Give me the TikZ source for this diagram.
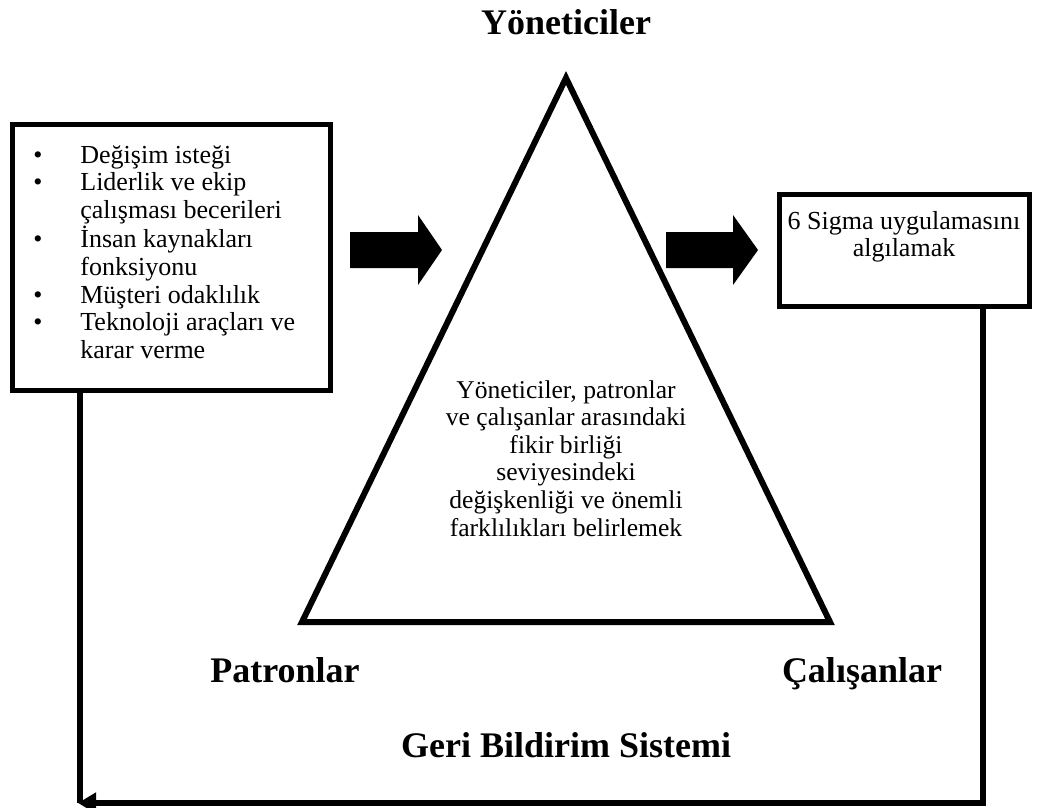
\documentclass[tikz,border=0pt]{standalone}
\usepackage{fontspec}
\setmainfont{Liberation Serif}
\usetikzlibrary{arrows.meta}
\begin{document}
\begin{tikzpicture}[x=0.5pt,y=-0.5pt,
  boxline/.style={draw=black,line width=2.5pt,line join=miter,inner sep=0pt},
  triline/.style={draw=black,line width=3pt,line join=miter},
  fbline/.style={draw=black,line width=2.6pt,line join=miter},
  blockarrow/.style={fill=black},
  bodytext/.style={inner sep=0pt,font=\fontsize{13}{13.8}\selectfont},
  tritext/.style={inner sep=0pt,font=\fontsize{12.8}{13.8}\selectfont},
  corner/.style={inner sep=0pt,font=\bfseries\fontsize{18}{20}\selectfont},
  heading/.style={inner sep=0pt,font=\bfseries\fontsize{18}{20}\selectfont}]
\useasboundingbox (0,0) rectangle (1044,808);

% boxes
\node[boxline,minimum width=159pt,minimum height=132.5pt] (lbox) at (171,257.5) {};
\node[boxline,minimum width=125pt,minimum height=56pt] (rbox) at (904.5,250) {};

% left list
\node[bodytext,anchor=base west] (ltext) at (33,163) {%
  \begin{tabular}[t]{@{}p{23.5pt}@{}l@{}}
  \textbullet & Değişim isteği\\
  \textbullet & Liderlik ve ekip\\
              & çalışması becerileri\\
  \textbullet & İnsan kaynakları\\
              & fonksiyonu\\
  \textbullet & Müşteri odaklılık\\
  \textbullet & Teknoloji araçları ve\\
              & karar verme
  \end{tabular}};

% right box text
\node[bodytext,anchor=base] (rtext) at (904,229) {%
  \begin{tabular}[t]{@{}c@{}}
  6 Sigma uygulamasını\\
  algılamak
  \end{tabular}};

% triangle
\coordinate (apex) at (566,78);
\coordinate (bl) at (302,622);
\coordinate (br) at (830,622);
\draw[triline] (apex) -- (br) -- (bl) -- cycle;

\node[tritext,anchor=base] (ttext) at (566,398) {%
  \begin{tabular}[t]{@{}c@{}}
  Yöneticiler, patronlar\\
  ve çalışanlar arasındaki\\
  fikir birliği\\
  seviyesindeki\\
  değişkenliği ve önemli\\
  farklılıkları belirlemek
  \end{tabular}};

% block arrows
\fill[blockarrow] (350,232) -- (418,232) -- (418,215) -- (442,250) -- (418,285) -- (418,268) -- (350,268) -- cycle;
\fill[blockarrow] (666,232) -- (733,232) -- (733,215) -- (758,250) -- (733,285) -- (733,268) -- (666,268) -- cycle;

% labels
\node[heading,anchor=base] (top) at (566,35) {Yöneticiler};
\node[corner,anchor=base] (pat) at (285,682) {Patronlar};
\node[corner,anchor=base] (cal) at (862,682) {Çalışanlar};
\node[heading,anchor=base] (geri) at (566,757) {Geri Bildirim Sistemi};

% feedback loop
\coordinate (rdrop) at (983,306);
\coordinate (rcorner) at (983,803);
\coordinate (lcorner) at (78,803);
\coordinate (ldrop) at (80,390);
\coordinate (lend) at (80,803);
\draw[fbline] (ldrop) -- (lend);
\draw[fbline,-{Triangle[length=9pt,width=10pt]}] (rdrop) -- (rcorner) -- (lcorner);
\end{tikzpicture}
\end{document}
